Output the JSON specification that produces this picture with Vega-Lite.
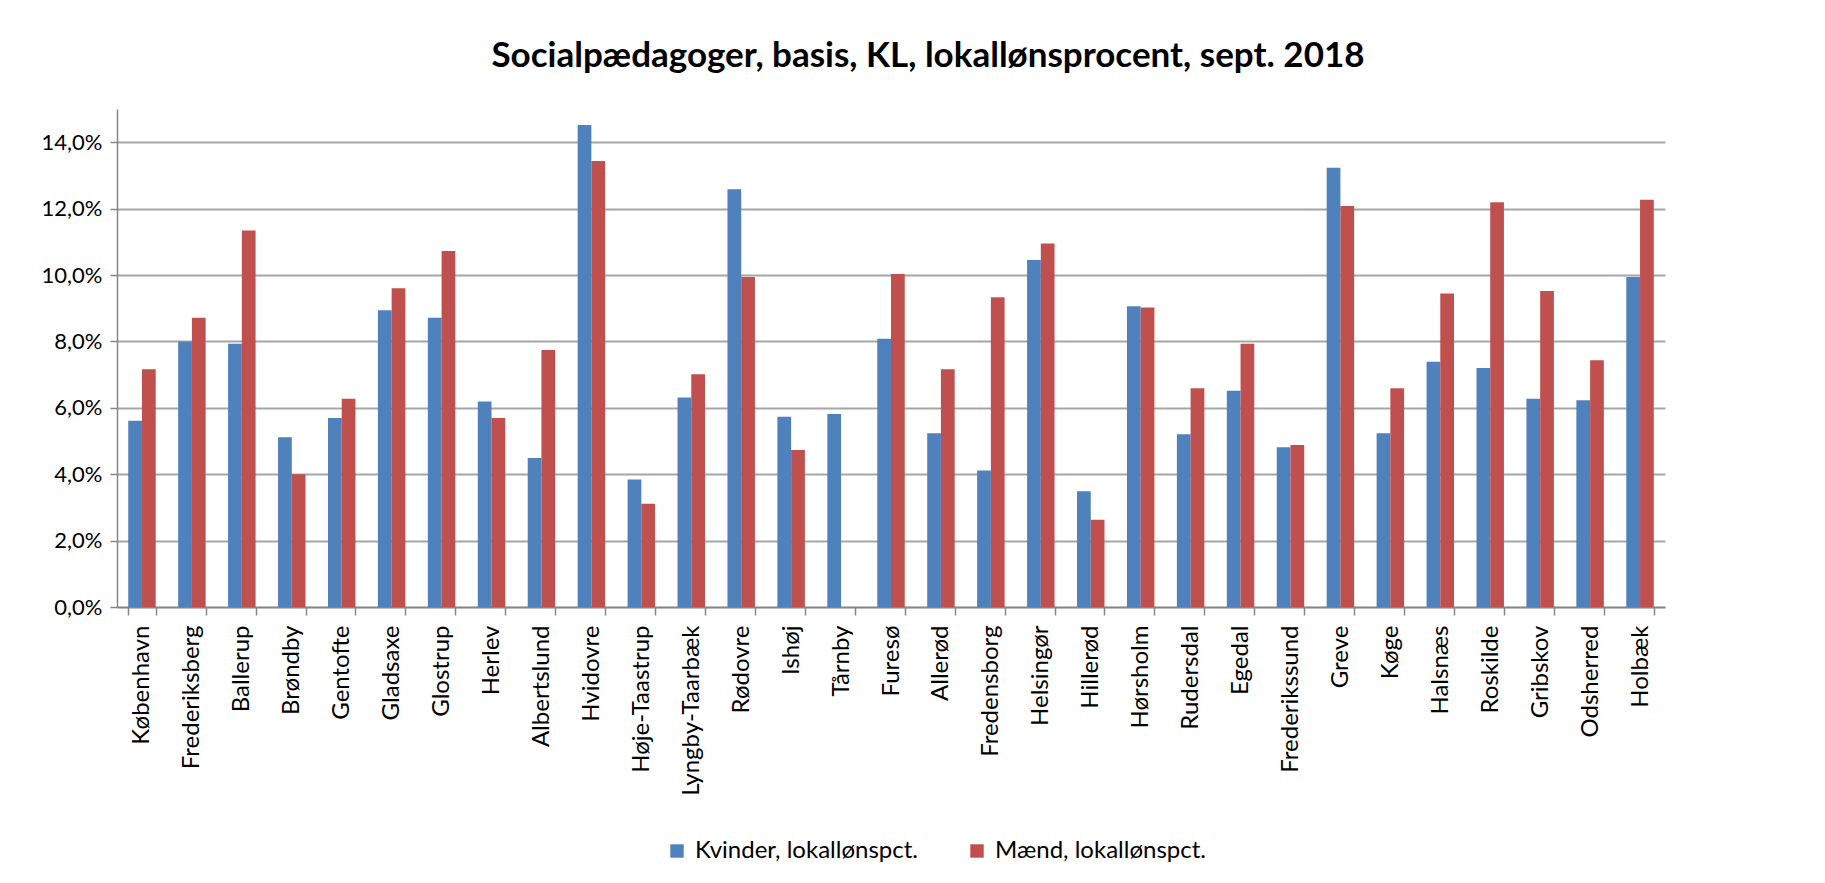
{
  "$schema": "https://vega.github.io/schema/vega-lite/v6.json",
  "width": 1548,
  "height": 498,
  "autosize": {"type": "none"},
  "padding": {"left": 117, "top": 109, "right": 160, "bottom": 276},
  "background": "white",
  "config": {
    "locale": {"number": {"decimal": ",", "thousands": ".", "grouping": [3], "currency": ["", " kr."]}},
    "font": "Lato",
    "view": {"stroke": null}
  },
  "title": {
    "text": "Socialpædagoger, basis, KL, lokallønsprocent, sept. 2018",
    "font": "Lato",
    "fontSize": 35,
    "fontWeight": "bold",
    "color": "#000000",
    "anchor": "middle",
    "dx": 37,
    "offset": 35
  },
  "data": {
    "values": [
      {"kommune": "København", "serie": "Kvinder, lokallønspct.", "value": 0.0561},
      {"kommune": "København", "serie": "Mænd, lokallønspct.", "value": 0.0716},
      {"kommune": "Frederiksberg", "serie": "Kvinder, lokallønspct.", "value": 0.0800},
      {"kommune": "Frederiksberg", "serie": "Mænd, lokallønspct.", "value": 0.0871},
      {"kommune": "Ballerup", "serie": "Kvinder, lokallønspct.", "value": 0.0793},
      {"kommune": "Ballerup", "serie": "Mænd, lokallønspct.", "value": 0.1134},
      {"kommune": "Brøndby", "serie": "Kvinder, lokallønspct.", "value": 0.0511},
      {"kommune": "Brøndby", "serie": "Mænd, lokallønspct.", "value": 0.0400},
      {"kommune": "Gentofte", "serie": "Kvinder, lokallønspct.", "value": 0.0569},
      {"kommune": "Gentofte", "serie": "Mænd, lokallønspct.", "value": 0.0627},
      {"kommune": "Gladsaxe", "serie": "Kvinder, lokallønspct.", "value": 0.0894},
      {"kommune": "Gladsaxe", "serie": "Mænd, lokallønspct.", "value": 0.0960},
      {"kommune": "Glostrup", "serie": "Kvinder, lokallønspct.", "value": 0.0871},
      {"kommune": "Glostrup", "serie": "Mænd, lokallønspct.", "value": 0.1072},
      {"kommune": "Herlev", "serie": "Kvinder, lokallønspct.", "value": 0.0619},
      {"kommune": "Herlev", "serie": "Mænd, lokallønspct.", "value": 0.0569},
      {"kommune": "Albertslund", "serie": "Kvinder, lokallønspct.", "value": 0.0449},
      {"kommune": "Albertslund", "serie": "Mænd, lokallønspct.", "value": 0.0774},
      {"kommune": "Hvidovre", "serie": "Kvinder, lokallønspct.", "value": 0.1452},
      {"kommune": "Hvidovre", "serie": "Mænd, lokallønspct.", "value": 0.1343},
      {"kommune": "Høje-Taastrup", "serie": "Kvinder, lokallønspct.", "value": 0.0384},
      {"kommune": "Høje-Taastrup", "serie": "Mænd, lokallønspct.", "value": 0.0311},
      {"kommune": "Lyngby-Taarbæk", "serie": "Kvinder, lokallønspct.", "value": 0.0631},
      {"kommune": "Lyngby-Taarbæk", "serie": "Mænd, lokallønspct.", "value": 0.0701},
      {"kommune": "Rødovre", "serie": "Kvinder, lokallønspct.", "value": 0.1258},
      {"kommune": "Rødovre", "serie": "Mænd, lokallønspct.", "value": 0.0994},
      {"kommune": "Ishøj", "serie": "Kvinder, lokallønspct.", "value": 0.0573},
      {"kommune": "Ishøj", "serie": "Mænd, lokallønspct.", "value": 0.0473},
      {"kommune": "Tårnby", "serie": "Kvinder, lokallønspct.", "value": 0.0581},
      {"kommune": "Tårnby", "serie": "Mænd, lokallønspct.", "value": null},
      {"kommune": "Furesø", "serie": "Kvinder, lokallønspct.", "value": 0.0808},
      {"kommune": "Furesø", "serie": "Mænd, lokallønspct.", "value": 0.1003},
      {"kommune": "Allerød", "serie": "Kvinder, lokallønspct.", "value": 0.0523},
      {"kommune": "Allerød", "serie": "Mænd, lokallønspct.", "value": 0.0716},
      {"kommune": "Fredensborg", "serie": "Kvinder, lokallønspct.", "value": 0.0411},
      {"kommune": "Fredensborg", "serie": "Mænd, lokallønspct.", "value": 0.0933},
      {"kommune": "Helsingør", "serie": "Kvinder, lokallønspct.", "value": 0.1045},
      {"kommune": "Helsingør", "serie": "Mænd, lokallønspct.", "value": 0.1095},
      {"kommune": "Hillerød", "serie": "Kvinder, lokallønspct.", "value": 0.0349},
      {"kommune": "Hillerød", "serie": "Mænd, lokallønspct.", "value": 0.0263},
      {"kommune": "Hørsholm", "serie": "Kvinder, lokallønspct.", "value": 0.0906},
      {"kommune": "Hørsholm", "serie": "Mænd, lokallønspct.", "value": 0.0902},
      {"kommune": "Rudersdal", "serie": "Kvinder, lokallønspct.", "value": 0.0520},
      {"kommune": "Rudersdal", "serie": "Mænd, lokallønspct.", "value": 0.0659},
      {"kommune": "Egedal", "serie": "Kvinder, lokallønspct.", "value": 0.0651},
      {"kommune": "Egedal", "serie": "Mænd, lokallønspct.", "value": 0.0793},
      {"kommune": "Frederikssund", "serie": "Kvinder, lokallønspct.", "value": 0.0481},
      {"kommune": "Frederikssund", "serie": "Mænd, lokallønspct.", "value": 0.0488},
      {"kommune": "Greve", "serie": "Kvinder, lokallønspct.", "value": 0.1323},
      {"kommune": "Greve", "serie": "Mænd, lokallønspct.", "value": 0.1208},
      {"kommune": "Køge", "serie": "Kvinder, lokallønspct.", "value": 0.0523},
      {"kommune": "Køge", "serie": "Mænd, lokallønspct.", "value": 0.0659},
      {"kommune": "Halsnæs", "serie": "Kvinder, lokallønspct.", "value": 0.0739},
      {"kommune": "Halsnæs", "serie": "Mænd, lokallønspct.", "value": 0.0944},
      {"kommune": "Roskilde", "serie": "Kvinder, lokallønspct.", "value": 0.0720},
      {"kommune": "Roskilde", "serie": "Mænd, lokallønspct.", "value": 0.1219},
      {"kommune": "Gribskov", "serie": "Kvinder, lokallønspct.", "value": 0.0627},
      {"kommune": "Gribskov", "serie": "Mænd, lokallønspct.", "value": 0.0952},
      {"kommune": "Odsherred", "serie": "Kvinder, lokallønspct.", "value": 0.0623},
      {"kommune": "Odsherred", "serie": "Mænd, lokallønspct.", "value": 0.0743},
      {"kommune": "Holbæk", "serie": "Kvinder, lokallønspct.", "value": 0.0994},
      {"kommune": "Holbæk", "serie": "Mænd, lokallønspct.", "value": 0.1227}
    ]
  },
  "mark": {"type": "bar"},
  "encoding": {
    "x": {
      "field": "kommune",
      "type": "nominal",
      "sort": null,
      "scale": {"paddingInner": 0.45, "paddingOuter": 0.225},
      "axis": {
        "title": null,
        "labelAngle": -90,
        "labelFontSize": 24,
        "labelFont": "Lato",
        "labelColor": "#000000",
        "labelPadding": 10,
        "labelLimit": 0,
        "tickBand": "extent",
        "tickSize": 8,
        "tickColor": "#868686",
        "tickWidth": 1.5,
        "domainColor": "#868686",
        "domainWidth": 1.5,
        "grid": false
      }
    },
    "xOffset": {
      "field": "serie",
      "type": "nominal",
      "scale": {"domain": ["Kvinder, lokallønspct.", "Mænd, lokallønspct."], "paddingInner": 0, "paddingOuter": 0}
    },
    "y": {
      "field": "value",
      "type": "quantitative",
      "scale": {"domain": [0, 0.15], "nice": false},
      "axis": {
        "title": null,
        "format": ".1%",
        "values": [0, 0.02, 0.04, 0.06, 0.08, 0.1, 0.12, 0.14],
        "labelFontSize": 22,
        "labelFont": "Lato",
        "labelColor": "#000000",
        "labelPadding": 8,
        "tickSize": 7,
        "tickColor": "#868686",
        "tickWidth": 1.5,
        "domainColor": "#868686",
        "domainWidth": 1.5,
        "grid": true,
        "gridColor": "#A6A6A6",
        "gridWidth": 2
      }
    },
    "color": {
      "field": "serie",
      "type": "nominal",
      "scale": {"domain": ["Kvinder, lokallønspct.", "Mænd, lokallønspct."], "range": ["#4F81BD", "#C0504D"]},
      "legend": {
        "title": null,
        "orient": "none",
        "direction": "horizontal",
        "legendX": 548,
        "legendY": 730,
        "symbolType": "square",
        "symbolSize": 180,
        "symbolStrokeWidth": 0,
        "labelFontSize": 24,
        "labelFont": "Lato",
        "labelColor": "#000000",
        "labelOffset": 6,
        "labelLimit": 0,
        "columnPadding": 47
      }
    }
  }
}
